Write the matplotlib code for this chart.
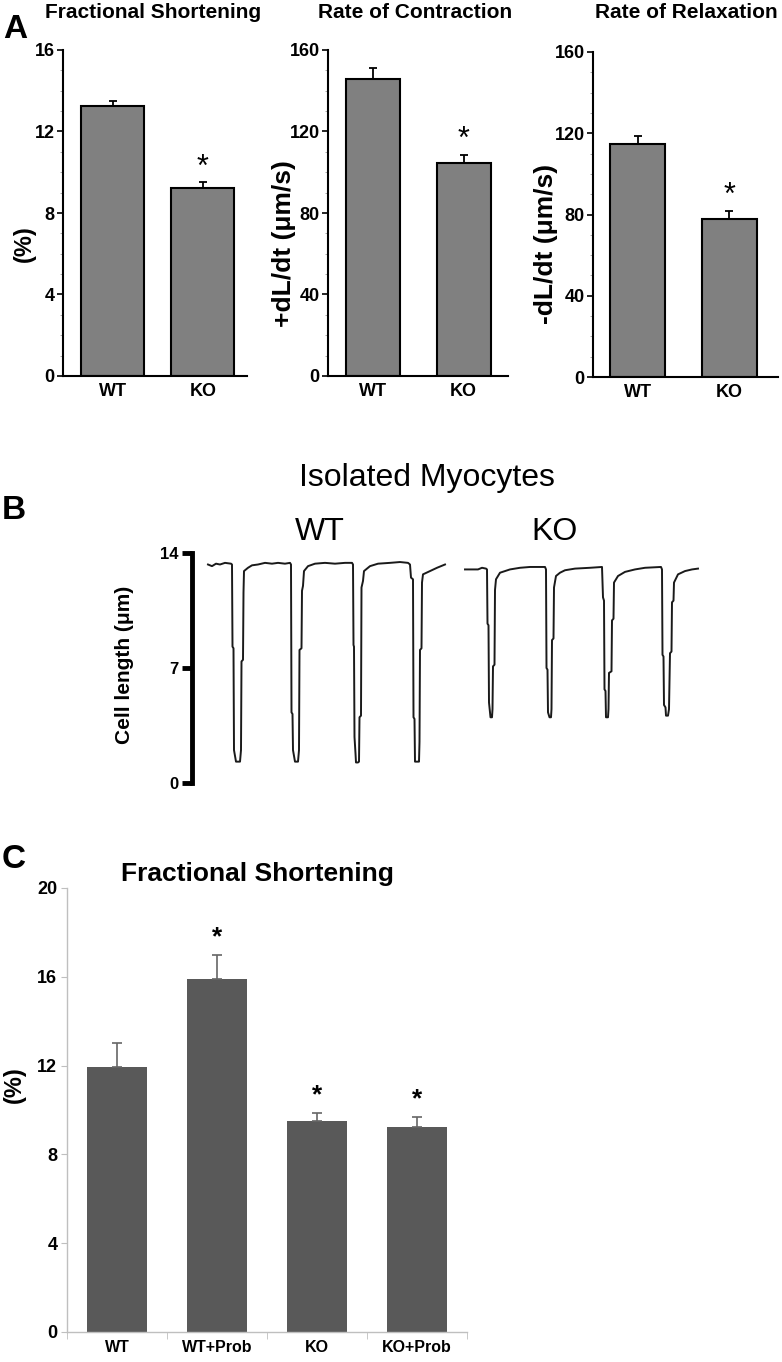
import matplotlib.pyplot as plt
from matplotlib.ticker import MultipleLocator

plt.rcParams['font.family'] = ['Liberation Sans', 'DejaVu Sans']

W, H = 782, 1362

# panel A: myocyte contractility, WT vs KO
groups = ['WT', 'KO']
fs_mean = [13.25, 9.25]
fs_sem = [0.25, 0.25]
plus_dldt_mean = [146.0, 104.7]
plus_dldt_sem = [5.4, 3.6]
minus_dldt_mean = [114.7, 77.8]
minus_dldt_sem = [3.9, 4.1]

# panel B: cell length traces (time in arbitrary units, length in um)
wt_time = [208, 212, 216, 220, 225, 231, 232, 232.5, 233.5, 234, 236, 240, 241, 241.5, 243, 243.5, 244, 248, 252, 258, 265, 272, 278, 285, 290,
           291, 291.5, 292.5, 293, 295, 298, 299, 299.5, 301.5, 302, 303, 304, 308, 315, 325, 335, 345, 352,
           353, 353.5, 354, 354.5, 355.5, 356, 358, 359, 359.5, 361, 361.5, 363, 364, 370, 378, 390, 400, 408, 410,
           411, 413, 413.5, 414.5, 415, 419, 419.5, 420, 421.5, 422, 423, 430, 437, 445]
wt_length = [13.3, 13.2, 13.35, 13.3, 13.4, 13.35, 13.3, 8.3, 8.2, 2.0, 1.3, 1.3, 2.0, 7.4, 7.5, 11.6, 12.9, 13.1, 13.25, 13.3, 13.4, 13.35, 13.4, 13.35, 13.4,
             13.3, 4.3, 4.2, 2.0, 1.3, 1.3, 2.0, 8.1, 8.2, 11.7, 12.0, 12.9, 13.2, 13.35, 13.4, 13.35, 13.4, 13.4,
             13.3, 8.4, 8.3, 2.8, 1.8, 1.25, 1.25, 1.3, 4.0, 4.1, 11.9, 12.3, 12.9, 13.2, 13.35, 13.4, 13.45, 13.4, 13.3,
             12.5, 12.4, 4.0, 3.9, 1.3, 1.3, 2.5, 8.1, 8.2, 12.2, 12.7, 12.9, 13.1, 13.3]
ko_time = [465, 478, 482, 486, 487, 487.5, 488.5, 489, 490, 490.5, 492, 492.5, 493, 494.5, 495, 496, 500, 505, 510, 520, 530, 545,
           546, 546.5, 547.5, 548, 549.5, 551, 551.5, 552, 553.5, 554, 556, 560, 565, 575, 590, 602,
           603, 604, 604.5, 605.5, 606, 608, 608.5, 609, 611.5, 612, 613.5, 614, 618, 625, 635, 645, 661,
           662, 662.5, 663.5, 664, 665.5, 666, 668, 669, 670, 671.5, 672, 673.5, 674, 678, 685, 692, 698]
ko_length = [13.0, 13.0, 13.1, 13.05, 13.0, 9.7, 9.6, 4.9, 4.3, 4.0, 4.0, 4.5, 7.1, 7.2, 11.75, 12.4, 12.8, 12.9, 13.0, 13.1, 13.15, 13.15,
             13.0, 7.0, 6.9, 4.3, 4.0, 4.0, 4.5, 8.7, 8.8, 11.9, 12.6, 12.8, 12.95, 13.05, 13.1, 13.15,
             11.3, 11.1, 5.7, 5.6, 4.0, 4.0, 4.5, 6.7, 6.8, 9.9, 10.0, 12.2, 12.6, 12.85, 13.0, 13.1, 13.15,
             13.0, 7.8, 7.7, 4.75, 4.6, 4.1, 4.1, 4.5, 7.9, 8.0, 11.0, 11.1, 12.2, 12.7, 12.9, 13.0, 13.05]

# panel C: fractional shortening with probenecid
treatments = ['WT', 'WT+Prob', 'KO', 'KO+Prob']
fs_treat_mean = [11.95, 15.9, 9.5, 9.25]
fs_treat_sem = [1.05, 1.1, 0.35, 0.45]
fs_treat_sig = [False, True, True, True]

fig = plt.figure(figsize=(W / 100, H / 100), dpi=100)


def px_axes(left, top, right, bottom):
    return fig.add_axes([left / W, 1 - bottom / H, (right - left) / W, (bottom - top) / H])


def px_text(x, y, s, **kw):
    kw.setdefault('ha', 'center')
    kw.setdefault('va', 'center')
    fig.text(x / W, 1 - y / H, s, **kw)


def panel_a(box, means, sems, ymax, major, minor, width, xlim):
    ax = px_axes(*box)
    x = list(range(len(groups)))
    ax.bar(x, means, width=width, color='#808080', edgecolor='black', linewidth=1.5, zorder=2)
    ax.errorbar(x, means, yerr=[[0] * len(x), sems], fmt='none', ecolor='black',
                elinewidth=1.3, capsize=3, capthick=1.3, zorder=3)
    ax.annotate('*', xy=(1, means[1] + sems[1]), xytext=(0, 0), textcoords='offset points',
                ha='center', va='bottom', fontsize=22)
    ax.set_xlim(*xlim)
    ax.set_ylim(0, ymax)
    ax.yaxis.set_major_locator(MultipleLocator(major))
    ax.yaxis.set_minor_locator(MultipleLocator(minor))
    ax.set_xticks(x, groups, fontsize=13, fontweight='bold')
    ax.tick_params(axis='x', length=0, pad=5)
    ax.tick_params(axis='y', which='major', length=4, width=1.2, labelsize=13, pad=2)
    ax.tick_params(axis='y', which='minor', length=2.5, width=0.6, color='#999999')
    for lbl in ax.get_yticklabels():
        lbl.set_fontweight('bold')
    for side in ['top', 'right']:
        ax.spines[side].set_visible(False)
    for side in ['left', 'bottom']:
        ax.spines[side].set_linewidth(1.5)
    return ax


panel_a((63, 50, 247, 376), fs_mean, fs_sem, 16, 4, 1, 0.7, (-0.55, 1.49))
panel_a((328, 50, 508, 376), plus_dldt_mean, plus_dldt_sem, 160, 40, 10, 0.6, (-0.5, 1.49))
panel_a((593, 52, 778, 377), minus_dldt_mean, minus_dldt_sem, 160, 40, 10, 0.6, (-0.49, 1.535))

px_text(15, 30, 'A', fontsize=24, fontweight='bold')
px_text(153, 13, 'Fractional Shortening', fontsize=15, fontweight='bold')
px_text(415, 13, 'Rate of Contraction', fontsize=15, fontweight='bold')
px_text(686, 13, 'Rate of Relaxation', fontsize=15, fontweight='bold')
px_text(24, 244, '(%)', fontsize=17, fontweight='bold', rotation=90)
px_text(284, 244, '+dL/dt (\u03bcm/s)', fontsize=19, fontweight='bold', rotation=90)
px_text(546, 244, '-dL/dt (\u03bcm/s)', fontsize=19, fontweight='bold', rotation=90)

# panel B
axb = px_axes(192, 553, 722, 783)
axb.plot(wt_time, wt_length, color='#1a1a1a', lw=1.4)
axb.plot(ko_time, ko_length, color='#1a1a1a', lw=1.4)
axb.set_xlim(192, 722)
axb.set_ylim(0, 14)
axb.set_yticks([0, 7, 14])
axb.set_xticks([])
axb.tick_params(axis='y', length=7, width=3.5, labelsize=12, pad=3)
for lbl in axb.get_yticklabels():
    lbl.set_fontweight('bold')
for side in ['top', 'right', 'bottom']:
    axb.spines[side].set_visible(False)
axb.spines['left'].set_linewidth(3.5)

px_text(427, 478, 'Isolated Myocytes', fontsize=23)
px_text(14, 511, 'B', fontsize=24, fontweight='bold')
px_text(320, 532, 'WT', fontsize=23)
px_text(555, 532, 'KO', fontsize=23)
px_text(125, 665, 'Cell length (\u03bcm)', fontsize=15, fontweight='bold', rotation=90)

# panel C
axc = px_axes(67, 888, 467, 1332)
xc = list(range(len(treatments)))
axc.bar(xc, fs_treat_mean, width=0.6, color='#595959', zorder=2)
axc.errorbar(xc, fs_treat_mean, yerr=[[0] * len(xc), fs_treat_sem], fmt='none', ecolor='#666666',
             elinewidth=1.2, capsize=3.5, capthick=1.2, zorder=3)
for i, sig in enumerate(fs_treat_sig):
    if sig:
        axc.annotate('*', xy=(i, fs_treat_mean[i] + fs_treat_sem[i]), xytext=(0, 4),
                     textcoords='offset points', ha='center', va='bottom', fontsize=19, fontweight='bold')
axc.set_xlim(-0.5, 3.5)
axc.set_ylim(0, 20)
axc.set_yticks([0, 4, 8, 12, 16, 20])
axc.set_xticks(xc, treatments, fontsize=11.5, fontweight='bold')
axc.set_xticks([-0.5, 0.5, 1.5, 2.5, 3.5], minor=True)
axc.tick_params(axis='x', which='major', length=0, pad=6)
axc.tick_params(axis='x', which='minor', length=5, color='#bfbfbf')
axc.tick_params(axis='y', length=4, color='#bfbfbf', labelsize=13, pad=3)
for lbl in axc.get_yticklabels():
    lbl.set_fontweight('bold')
for side in ['top', 'right']:
    axc.spines[side].set_visible(False)
for side in ['left', 'bottom']:
    axc.spines[side].set_color('#bfbfbf')
    axc.spines[side].set_linewidth(1.0)

px_text(14, 860, 'C', fontsize=24, fontweight='bold')
px_text(257, 874, 'Fractional Shortening', fontsize=19, fontweight='bold')
px_text(14, 1085, '(%)', fontsize=17, fontweight='bold', rotation=90)

fig.savefig('out.png', dpi=100)
